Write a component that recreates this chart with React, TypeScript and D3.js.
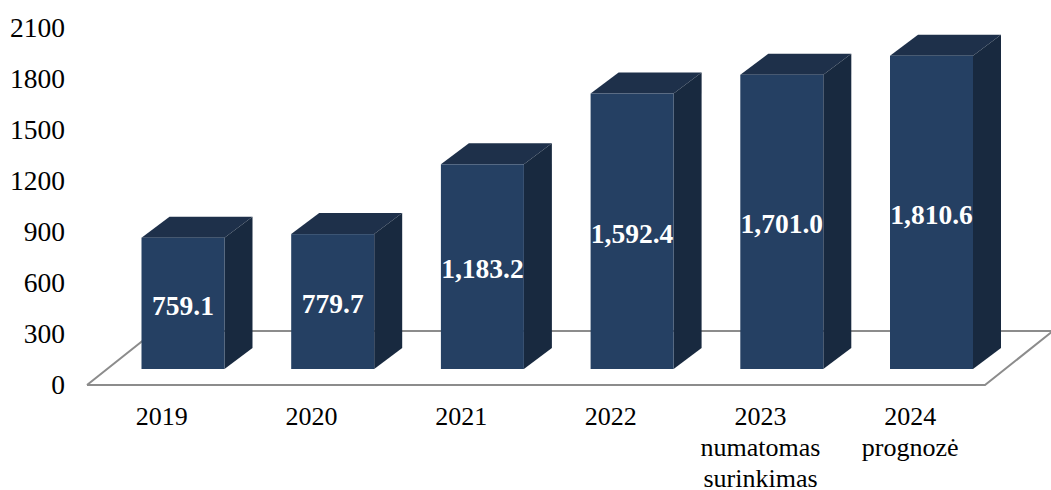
import React from "react";
import * as d3 from "d3";

const categories = ["2019", "2020", "2021", "2022", "2023", "2024"];
const categoryLines = [["2019"], ["2020"], ["2021"], ["2022"], ["2023", "numatomas", "surinkimas"], ["2024", "prognozė"]];
const values = [759.1, 779.7, 1183.2, 1592.4, 1701.0, 1810.6];
const valueLabels = ["759.1", "779.7", "1,183.2", "1,592.4", "1,701.0", "1,810.6"];
const ticks = [0, 300, 600, 900, 1200, 1500, 1800, 2100];

const W = 1051, H = 490;
const FONT = "'Liberation Serif', 'Times New Roman', serif";
const DX = 28, DY = 21;
const FRONT = "#254063", TOP = "#1e304a", SIDE = "#18293f";

export default function App() {
  const x = d3.scaleBand<string>().domain(categories).range([141.5, 973]).paddingInner(0.4456).paddingOuter(0);
  const y = d3.scaleLinear().domain([0, 2100]).range([369, 5.7]);
  const tickY = d3.scaleLinear().domain([0, 2100]).range([384, 27]);
  const labelX = d3.scaleBand<string>().domain(categories).range([87, 985]);
  const floor = d3.line()([[87, 385], [985, 385], [1053, 331], [155, 331], [87, 385]]) as string;
  const bw = x.bandwidth();
  return (
    <svg width={W} height={H} style={{ position: "absolute", left: 0, top: 0, background: "#fff" }} fontFamily={FONT}>
      <path d={floor} fill="none" stroke="#8c8c8c" strokeWidth={2} />
      {ticks.map(t => (
        <text key={t} x={65} y={tickY(t)} textAnchor="end" dominantBaseline="central" fontSize={27.5} fill="#000">{t}</text>
      ))}
      {values.map((v, i) => {
        const c = categories[i];
        const l = x(c)!, r = l + bw, t = y(v), b = y(0);
        return (
          <g key={c}>
            <path d={`M${l},${t}L${l + DX},${t - DY}L${r + DX},${t - DY}L${r},${t}Z`} fill={TOP} />
            <path d={`M${r},${t}L${r + DX},${t - DY}L${r + DX},${b - DY}L${r},${b}Z`} fill={SIDE} />
            <rect x={l} y={t} width={bw} height={b - t} fill={FRONT} />
            <text x={l + bw / 2} y={(t + b) / 2 + 2} textAnchor="middle" dominantBaseline="central" fontSize={27.5} fontWeight="bold" fill="#fff">{valueLabels[i]}</text>
          </g>
        );
      })}
      {categoryLines.map((lines, i) => (
        <text key={i} textAnchor="middle" fontSize={26} fill="#000">
          {lines.map((s, j) => (
            <tspan key={j} x={labelX(categories[i])! + labelX.bandwidth() / 2} y={416.5 + j * 31} dominantBaseline="central">{s}</tspan>
          ))}
        </text>
      ))}
    </svg>
  );
}
